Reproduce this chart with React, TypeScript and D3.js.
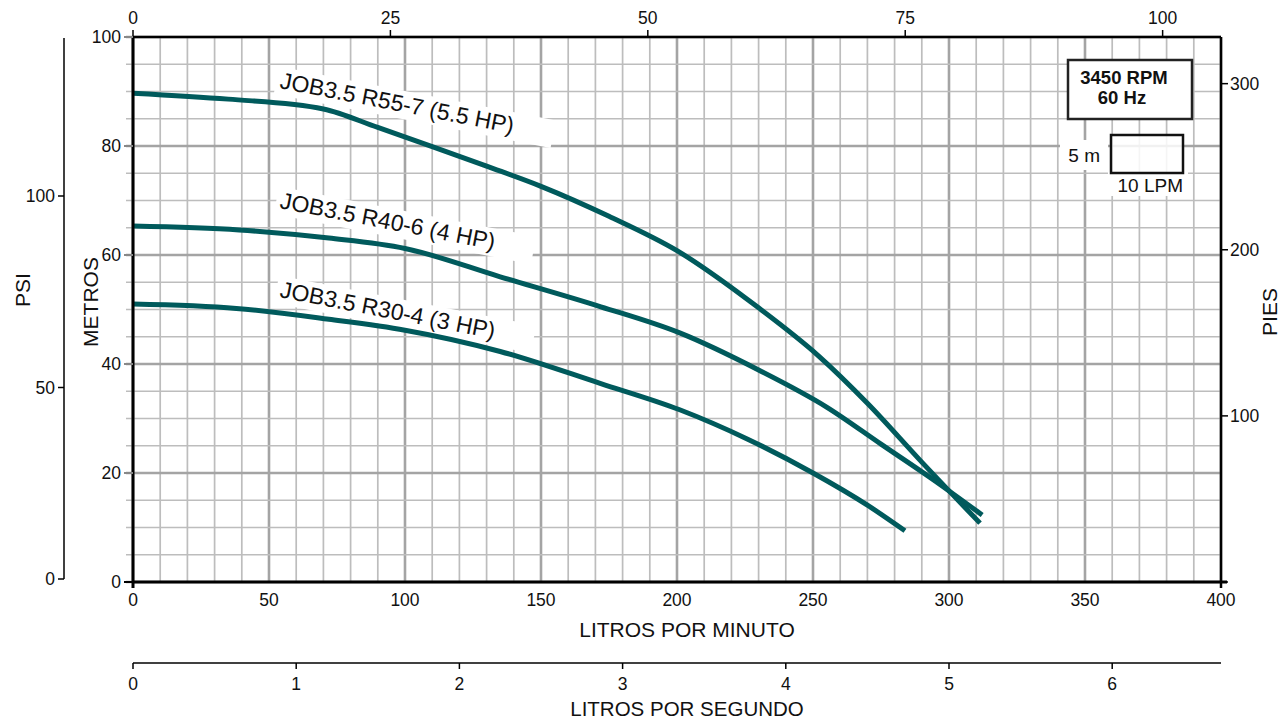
import React from "react";
import * as d3 from "d3";

// ---- data (LPM, metros) ----
const seriesNames = ["JOB3.5 R55-7 (5.5 HP)", "JOB3.5 R40-6 (4 HP)", "JOB3.5 R30-4 (3 HP)"];
const r55_7: [number, number][] = [
  [0, 89.7], [35, 88.6], [70, 86.8], [90, 83.4], [110, 79.9], [130, 76.3], [150, 72.6],
  [175, 67.1], [200, 60.8], [230, 50.3], [252, 41.5], [270, 32.8], [290, 22.0], [311.4, 10.8],
];
const r40_6: [number, number][] = [
  [0, 65.3], [39, 64.6], [72, 63.1], [100, 61.2], [135, 56], [172, 50.5],
  [201, 45.7], [230, 38.9], [255, 32.1], [275, 25.3], [295, 18.5], [312.2, 12.3],
];
const r30_4: [number, number][] = [
  [0, 51], [38, 50.2], [72, 48.2], [100, 46.2], [135, 42.3], [172, 36.4], [201, 31.6],
  [226, 26.2], [250, 20.0], [270, 14.1], [283.8, 9.4],
];
const seriesData = [r55_7, r40_6, r30_4];
const labelAnchors: [number, number][] = [[279, 88], [279, 208], [279, 297]];

const lpmTicks = [0, 50, 100, 150, 200, 250, 300, 350, 400];
const metroTicks = [0, 20, 40, 60, 80, 100];
const gpmTicks = [0, 25, 50, 75, 100];
const psiTicks = [0, 50, 100];
const piesTicks = [0, 100, 200, 300];
const lpsTicks = [0, 1, 2, 3, 4, 5, 6];

const FONT = "'Liberation Sans', Arial, sans-serif";
const CURVE = "#005a5c";

export default function App() {
  const x = d3.scaleLinear().domain([0, 400]).range([133, 1221]);
  const y = d3.scaleLinear().domain([0, 100]).range([582, 37]);
  const psi = d3.scaleLinear().domain([0, 100]).range([579, 196]);
  const ftY = (f: number) => y(f * 0.3048);
  const gpmX = (g: number) => x(g * 3.7854);
  const lpsX = (l: number) => x(l * 60);

  const line = d3
    .line<[number, number]>()
    .x((d) => x(d[0]))
    .y((d) => y(d[1]))
    .curve(d3.curveMonotoneX);

  const minorX = d3.range(0, 401, 10);
  const minorY = d3.range(0, 101, 5);

  return (
    <svg
      width={1286}
      height={721}
      style={{ position: "absolute", left: 0, top: 0, background: "#fff" }}
      fontFamily={FONT}
    >
      <rect x={0} y={0} width={1286} height={721} fill="#fff" />
      {/* grid */}
      {minorX.map((v) => (
        <line
          key={"gx" + v}
          x1={x(v)}
          x2={x(v)}
          y1={y(0)}
          y2={y(100)}
          stroke={v % 50 === 0 ? "#a4a4a4" : "#bdbdbd"}
          strokeWidth={v % 50 === 0 ? 2.6 : 1.7}
        />
      ))}
      {minorY.map((v) => (
        <line
          key={"gy" + v}
          x1={126}
          x2={x(400)}
          y1={y(v)}
          y2={y(v)}
          stroke={v % 20 === 0 ? "#a4a4a4" : "#bdbdbd"}
          strokeWidth={v % 20 === 0 ? 2.6 : 1.7}
        />
      ))}

      {/* label backgrounds */}
      {labelAnchors.map(([lx, ly], i) => (
        <rect
          key={"lb" + i}
          x={-4}
          y={-21}
          width={i === 0 ? 282 : 262}
          height={28}
          fill="#fff"
          transform={`translate(${lx},${ly}) rotate(11)`}
        />
      ))}

      {/* legend white areas */}
      <rect x={1060} y={140} width={48} height={30} fill="#fff" />
      <rect x={1108} y={172} width={80} height={24} fill="#fff" />

      {/* curves */}
      {seriesData.map((d, i) => (
        <path key={"c" + i} d={line(d) || ""} fill="none" stroke={CURVE} strokeWidth={5} />
      ))}

      {/* curve labels */}
      {labelAnchors.map(([lx, ly], i) => (
        <text
          key={"lt" + i}
          transform={`translate(${lx},${ly}) rotate(11)`}
          fontSize={23}
          fill="#111"
        >
          {seriesNames[i]}
        </text>
      ))}

      {/* frame */}
      <line x1={x(0)} x2={x(400)} y1={y(100)} y2={y(100)} stroke="#000" strokeWidth={2.5} />
      <line x1={x(400)} x2={x(400)} y1={y(100)} y2={y(0) + 6} stroke="#000" strokeWidth={2.5} />
      <line x1={x(0)} x2={x(400) + 6} y1={y(0)} y2={y(0)} stroke="#000" strokeWidth={3} />
      <line x1={x(0)} x2={x(0)} y1={y(100) - 1} y2={y(0) + 6} stroke="#000" strokeWidth={3} />

      {/* top axis (GPM) */}
      {gpmTicks.map((g) => (
        <g key={"gt" + g}>
          <line x1={gpmX(g)} x2={gpmX(g)} y1={y(100)} y2={y(100) - 7} stroke="#000" strokeWidth={1.5} />
          <text x={gpmX(g)} y={24} textAnchor="middle" fontSize={17.5} fill="#111">
            {g}
          </text>
        </g>
      ))}

      {/* left metros axis labels */}
      {metroTicks.map((m) => (
        <g key={"mt" + m}>
          <line x1={124} x2={133} y1={y(m)} y2={y(m)} stroke={m === 0 ? "#000" : "#888"} strokeWidth={2} />
          <text x={121} y={y(m) + 6} textAnchor="end" fontSize={17.5} fill="#111">
            {m}
          </text>
        </g>
      ))}
      <text transform={`translate(98,302) rotate(-90)`} textAnchor="middle" fontSize={21} fill="#111">
        METROS
      </text>

      {/* PSI axis */}
      <line x1={64} x2={64} y1={38} y2={psi(0)} stroke="#000" strokeWidth={1.5} />
      {psiTicks.map((p) => (
        <g key={"pt" + p}>
          <line x1={58} x2={64} y1={psi(p)} y2={psi(p)} stroke="#000" strokeWidth={1.5} />
          <text x={55} y={psi(p) + 6} textAnchor="end" fontSize={17.5} fill="#111">
            {p}
          </text>
        </g>
      ))}
      <text transform={`translate(30,290) rotate(-90)`} textAnchor="middle" fontSize={21} fill="#111">
        PSI
      </text>

      {/* PIES axis */}
      {piesTicks.map((f) => (
        <g key={"ft" + f}>
          <line x1={1221} x2={1228} y1={ftY(f)} y2={ftY(f)} stroke="#000" strokeWidth={1.5} />
          {f > 0 && (
            <text x={1230} y={ftY(f) + 6} fontSize={17.5} fill="#111">
              {f}
            </text>
          )}
        </g>
      ))}
      <text transform={`translate(1277,312) rotate(-90)`} textAnchor="middle" fontSize={21} fill="#111">
        PIES
      </text>

      {/* bottom LPM axis */}
      {lpmTicks.map((v) => (
        <text key={"lx" + v} x={x(v)} y={606} textAnchor="middle" fontSize={17.5} fill="#111">
          {v}
        </text>
      ))}
      <text x={687} y={637} textAnchor="middle" fontSize={21} fill="#111">
        LITROS POR MINUTO
      </text>

      {/* LPS axis */}
      <line x1={x(0)} x2={x(400)} y1={663} y2={663} stroke="#000" strokeWidth={1.5} />
      {lpsTicks.map((l) => (
        <g key={"ls" + l}>
          <line x1={lpsX(l)} x2={lpsX(l)} y1={663} y2={669} stroke="#000" strokeWidth={1.5} />
          <text x={lpsX(l)} y={690} textAnchor="middle" fontSize={17.5} fill="#111">
            {l}
          </text>
        </g>
      ))}
      <text x={687} y={716} textAnchor="middle" fontSize={20.5} fill="#111">
        LITROS POR SEGUNDO
      </text>

      {/* legend */}
      <rect x={1068} y={60} width={124} height={59} fill="#fff" stroke="#222" strokeWidth={2.5} />
      <text x={1124} y={84} textAnchor="middle" fontSize={18.5} fontWeight="bold" fill="#111">
        3450 RPM
      </text>
      <text x={1122} y={104} textAnchor="middle" fontSize={18.5} fontWeight="bold" fill="#111">
        60 Hz
      </text>
      <rect x={1111} y={135} width={72} height={38} fill="#fff" fillOpacity={0.85} stroke="#111" strokeWidth={2.5} />
      <text x={1100} y={162} textAnchor="end" fontSize={19} fill="#111">
        5 m
      </text>
      <text x={1183} y={192} textAnchor="end" fontSize={19} fill="#111">
        10 LPM
      </text>
    </svg>
  );
}
